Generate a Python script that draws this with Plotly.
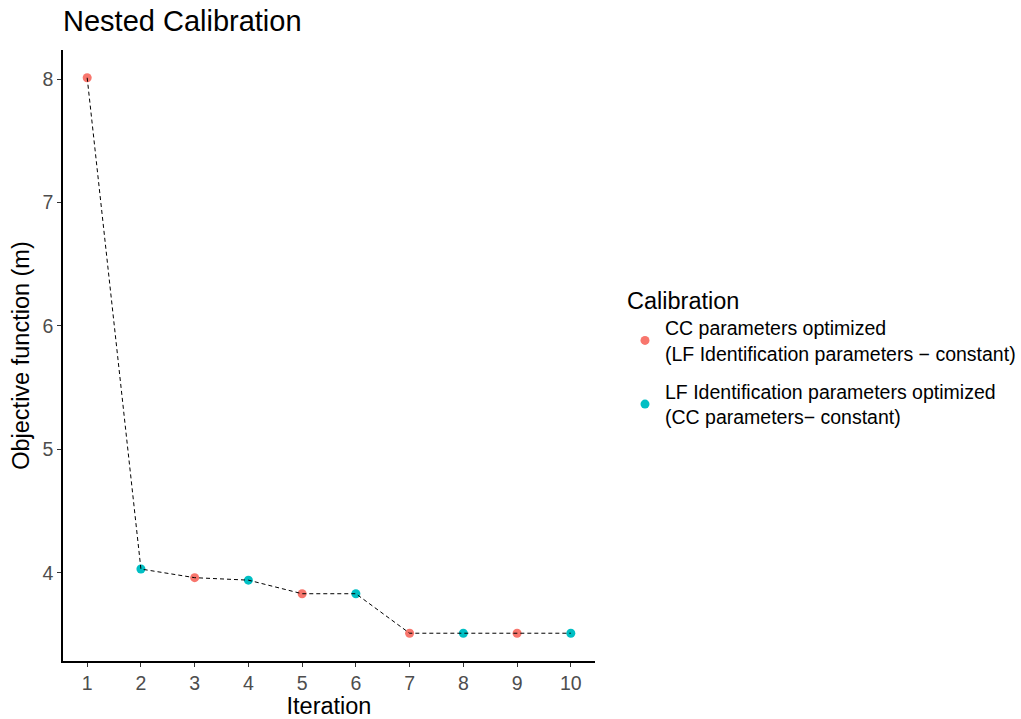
import plotly.graph_objects as go

iterations = [1, 2, 3, 4, 5, 6, 7, 8, 9, 10]
objective = [8.01, 4.03, 3.96, 3.94, 3.83, 3.83, 3.51, 3.51, 3.51, 3.51]
calibration = ["CC", "LF", "CC", "LF", "CC", "LF", "CC", "LF", "CC", "LF"]
group_names = {
    "CC": "CC parameters optimized<br>(LF Identification parameters \u2212 constant)",
    "LF": "LF Identification parameters optimized<br>(CC parameters\u2212 constant)",
}
group_colors = {"CC": "#F8766D", "LF": "#00BFC4"}

FONT = "Liberation Sans, Arial, sans-serif"

fig = go.Figure()
for g in ["CC", "LF"]:
    xs = [x for x, c in zip(iterations, calibration) if c == g]
    ys = [y for y, c in zip(objective, calibration) if c == g]
    fig.add_trace(go.Scatter(
        x=xs, y=ys, mode="markers", name=group_names[g], legendgroup=g,
        marker=dict(color=group_colors[g], size=9, line=dict(width=0)),
    ))
fig.add_trace(go.Scatter(
    x=iterations, y=objective, mode="lines", showlegend=False,
    line=dict(color="black", width=1, dash="4px,3px"),
))

ymin, ymax = min(objective), max(objective)
pad = 0.05 * (ymax - ymin)

fig.update_layout(
    width=1021, height=719,
    paper_bgcolor="white", plot_bgcolor="white",
    margin=dict(l=63, r=426, t=50, b=58, autoexpand=False),
    font=dict(family=FONT, color="black"),
    title=dict(text="Nested Calibration", x=63 / 1021, xanchor="left",
               y=1 - 21 / 719, yanchor="middle",
               font=dict(size=29, color="black", family=FONT)),
    xaxis=dict(
        range=[0.55, 10.45], tickvals=iterations, ticktext=[str(i) for i in iterations],
        showgrid=False, zeroline=False, showline=True, linecolor="black", linewidth=1.5,
        ticks="outside", ticklen=4, tickcolor="#333333", tickwidth=1,
        tickfont=dict(size=19.5, color="#4D4D4D", family=FONT),
        title=dict(text="Iteration", font=dict(size=23.5, color="black", family=FONT), standoff=2),
    ),
    yaxis=dict(
        range=[ymin - pad, ymax + pad], tickvals=[4, 5, 6, 7, 8],
        showgrid=False, zeroline=False, showline=True, linecolor="black", linewidth=1.5,
        ticks="outside", ticklen=4, tickcolor="#333333", tickwidth=1,
        tickfont=dict(size=19.5, color="#4D4D4D", family=FONT),
        title=dict(text="Objective function (m)", font=dict(size=23.5, color="black", family=FONT), standoff=6),
    ),
    legend=dict(
        title=dict(text="Calibration", font=dict(size=23.5, color="black", family=FONT)),
        font=dict(size=19.5, color="black", family=FONT),
        xref="container", x=625 / 1021, xanchor="left",
        yref="container", y=1 - 278 / 719, yanchor="top",
        tracegroupgap=10, itemsizing="trace", bgcolor="rgba(0,0,0,0)",
    ),
)

fig.write_html("out.html")
